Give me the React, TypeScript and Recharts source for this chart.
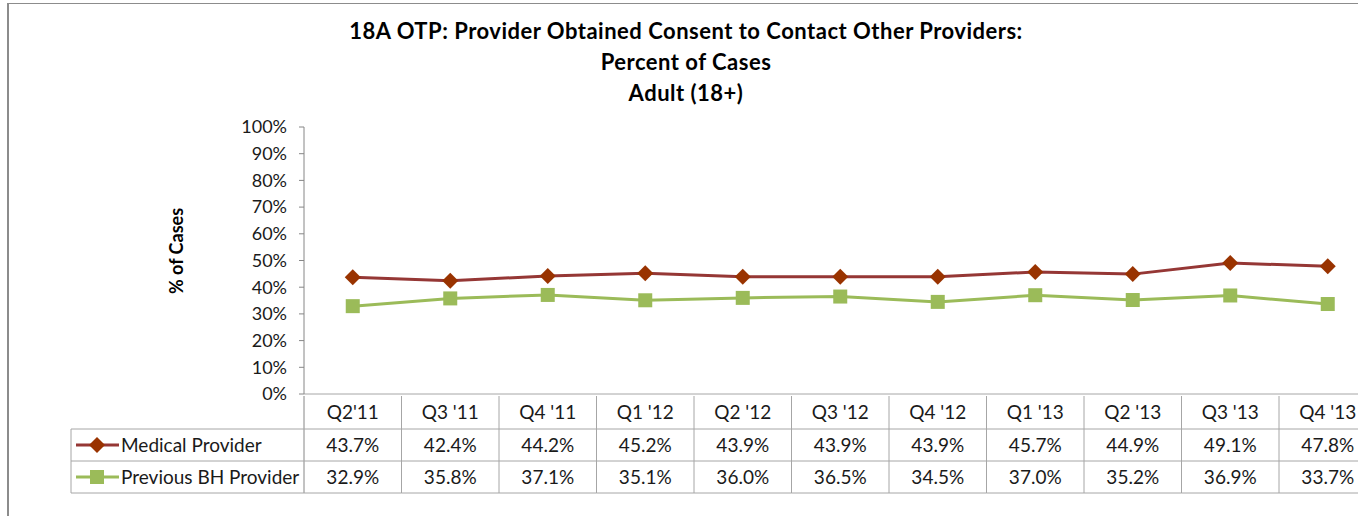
import React from "react";
import { LineChart, Line, XAxis, YAxis } from "recharts";

const quarters = ["Q2'11", "Q3 '11", "Q4 '11", "Q1 '12", "Q2 '12", "Q3 '12", "Q4 '12", "Q1 '13", "Q2 '13", "Q3 '13", "Q4 '13"];
const medical = [43.7, 42.4, 44.2, 45.2, 43.9, 43.9, 43.9, 45.7, 44.9, 49.1, 47.8];
const previousBH = [32.9, 35.8, 37.1, 35.1, 36.0, 36.5, 34.5, 37.0, 35.2, 36.9, 33.7];
const yTicks = [0, 10, 20, 30, 40, 50, 60, 70, 80, 90, 100];
const seriesNames = ["Medical Provider", "Previous BH Provider"];

const data = quarters.map((q, i) => ({ q, medical: medical[i], bh: previousBH[i] }));

const FONT = "Lato, 'Open Sans', sans-serif";
const RED_LINE = "#953735";
const RED_MARK = "#993300";
const GREEN = "#9BBB59";
const GRID = "#a6a6a6";
const AXIS = "#868686";

const HALF = 48.75;
const ROW1 = 33;
const ROW = 32;
const LEGEND_LEFT = 71;

const Diamond = ({ cx, cy }: { cx: number; cy: number }) => (
  <path d={`M${cx},${cy - 8} L${cx + 8},${cy} L${cx},${cy + 8} L${cx - 8},${cy} Z`} fill={RED_MARK} />
);
const Square = ({ cx, cy }: { cx: number; cy: number }) => (
  <rect x={cx - 7} y={cy - 7} width={14} height={14} fill={GREEN} />
);

function TableTick(props: any) {
  const { x, y, payload } = props;
  const i = payload.index;
  const left = x - HALF;
  const right = x + HALF;
  const r1 = y + ROW1;
  const r2 = r1 + ROW;
  const r3 = r2 + ROW;
  const txt = { fontFamily: FONT, fontSize: 19, fill: "#1a1a1a", textAnchor: "middle" as const };
  return (
    <g>
      <line x1={right} y1={y} x2={right} y2={r3} stroke={GRID} />
      {i === 0 && <line x1={left} y1={y} x2={left} y2={r3} stroke={AXIS} />}
      <line x1={i === 0 ? LEGEND_LEFT : left} y1={r1} x2={right} y2={r1} stroke={GRID} />
      <line x1={i === 0 ? LEGEND_LEFT : left} y1={r2} x2={right} y2={r2} stroke={GRID} />
      <line x1={i === 0 ? LEGEND_LEFT : left} y1={r3} x2={right} y2={r3} stroke={GRID} />
      <text x={x} y={y + 23} {...txt}>{payload.value}</text>
      <text x={x} y={r1 + 23} {...txt}>{medical[i].toFixed(1)}%</text>
      <text x={x} y={r2 + 23} {...txt}>{previousBH[i].toFixed(1)}%</text>
      {i === 0 && (
        <g>
          <line x1={LEGEND_LEFT} y1={r1} x2={LEGEND_LEFT} y2={r3} stroke={GRID} />
          <line x1={76} y1={r1 + 16} x2={119} y2={r1 + 16} stroke={RED_LINE} strokeWidth={3} />
          <Diamond cx={97} cy={r1 + 16} />
          <text x={121} y={r1 + 23} fontFamily={FONT} fontSize={19} fill="#1a1a1a">{seriesNames[0]}</text>
          <line x1={76} y1={r2 + 16} x2={119} y2={r2 + 16} stroke={GREEN} strokeWidth={3} />
          <Square cx={97} cy={r2 + 16} />
          <text x={121} y={r2 + 23} fontFamily={FONT} fontSize={19} fill="#1a1a1a">{seriesNames[1]}</text>
        </g>
      )}
    </g>
  );
}

export default function App() {
  return (
    <div style={{ position: "absolute", left: 0, top: 0, width: 1358, height: 516, overflow: "hidden", background: "#fff" }}>
      <div style={{ position: "absolute", left: 7, top: 3, width: 1400, height: 600, borderLeft: "2px solid #8c8c8c", borderTop: "1px solid #8c8c8c" }} />
      <div style={{ position: "absolute", left: 0, top: 15, width: 1372, textAlign: "center", fontFamily: FONT, fontWeight: 700, fontSize: 22, letterSpacing: 0.5, lineHeight: "31px", color: "#000" }}>
        <div>18A OTP: Provider Obtained Consent to Contact Other Providers:</div>
        <div>Percent of Cases</div>
        <div>Adult (18+)</div>
      </div>
      <div style={{ position: "absolute", left: 176, top: 251, transform: "translate(-50%, -50%) rotate(-90deg)", fontFamily: FONT, fontWeight: 700, fontSize: 18, whiteSpace: "nowrap", color: "#000" }}>
        % of Cases
      </div>
      <div style={{ position: "absolute", left: 0, top: 0 }}>
        <LineChart width={1400} height={516} data={data} margin={{ top: 127, right: 23.5, bottom: 22, left: 0 }}>
          <XAxis
            dataKey="q"
            height={100}
            interval={0}
            tickSize={0}
            tickLine={false}
            padding={{ left: HALF, right: HALF }}
            axisLine={{ stroke: GRID }}
            tick={<TableTick />}
          />
          <YAxis
            width={304}
            domain={[0, 100]}
            ticks={yTicks}
            tickFormatter={(v: number) => `${v}%`}
            tickSize={5}
            tickMargin={12}
            axisLine={{ stroke: AXIS }}
            tickLine={{ stroke: AXIS }}
            tick={{ fontFamily: FONT, fontSize: 18, fill: "#1a1a1a" }}
          />
          <Line
            dataKey="medical"
            stroke={RED_LINE}
            strokeWidth={3}
            isAnimationActive={false}
            dot={(p: any) => <Diamond key={`d${p.index}`} cx={p.cx} cy={p.cy} />}
          />
          <Line
            dataKey="bh"
            stroke={GREEN}
            strokeWidth={3}
            isAnimationActive={false}
            dot={(p: any) => <Square key={`s${p.index}`} cx={p.cx} cy={p.cy} />}
          />
        </LineChart>
      </div>
    </div>
  );
}
